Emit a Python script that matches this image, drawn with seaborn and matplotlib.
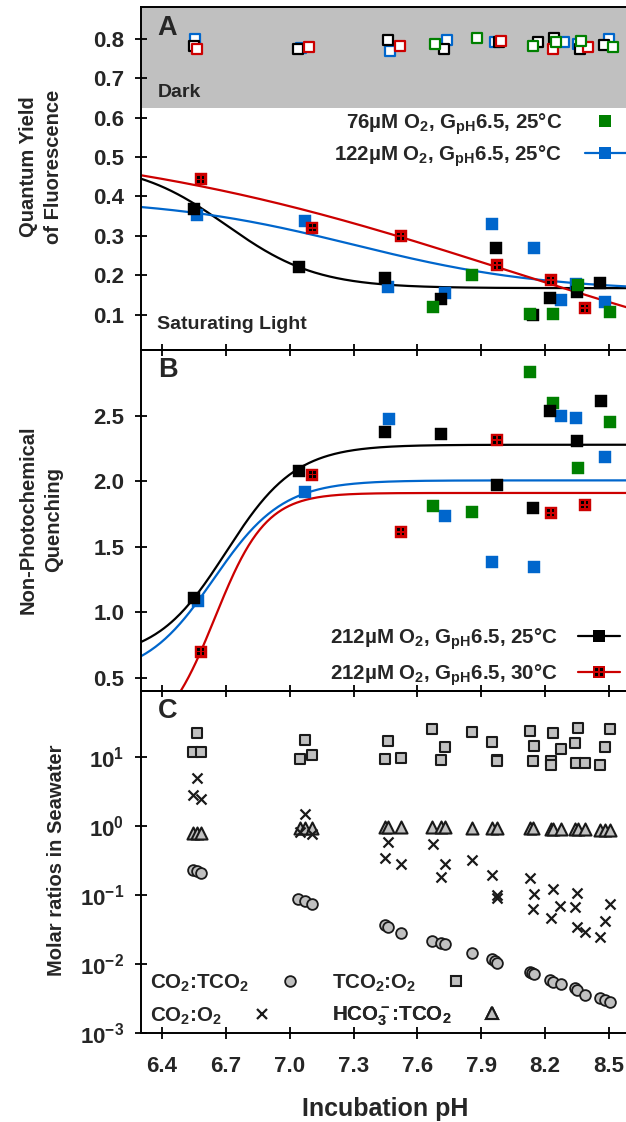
import numpy as np
import matplotlib
matplotlib.use("Agg")
import matplotlib.pyplot as plt
import seaborn as sns
from matplotlib.path import Path
from matplotlib.lines import Line2D
from matplotlib.ticker import FixedLocator, FormatStrFormatter, LogLocator, NullLocator

sns.set_style("ticks")
plt.rcParams.update({
    "font.family": ["Liberation Sans", "DejaVu Sans"],
    "font.weight": "bold",
    "mathtext.fontset": "custom",
    "mathtext.rm": "Liberation Sans:bold",
    "mathtext.it": "Liberation Sans:bold",
    "mathtext.bf": "Liberation Sans:bold",
    "mathtext.sf": "Liberation Sans:bold",
    "mathtext.default": "rm",
    "axes.linewidth": 1.4,
    "axes.edgecolor": "black",
})

GREEN = "#008000"
BLUE = "#0066cc"
RED = "#cc0000"
GRAY = "#c0c0c0"

# ---------------- Panel A: quantum yield of fluorescence ----------------
# dark-adapted
dark_ph_76 = [7.685, 7.878, 8.144, 8.251, 8.367, 8.520]
dark_fv_76 = [0.788, 0.803, 0.783, 0.791, 0.794, 0.779]
dark_ph_122 = [6.557, 7.051, 7.471, 7.737, 7.964, 8.290, 8.356, 8.499]
dark_fv_122 = [0.799, 0.777, 0.770, 0.797, 0.792, 0.791, 0.788, 0.799]
dark_ph_212_25 = [6.550, 7.041, 7.463, 7.724, 7.983, 8.165, 8.242, 8.365, 8.477]
dark_fv_212_25 = [0.782, 0.775, 0.796, 0.774, 0.792, 0.793, 0.803, 0.774, 0.785]
dark_ph_212_30 = [6.566, 7.091, 7.518, 7.991, 8.235, 8.403]
dark_fv_212_30 = [0.774, 0.780, 0.782, 0.794, 0.774, 0.780]

# saturating light
light_ph_76 = [7.671, 7.857, 8.129, 8.237, 8.353, 8.503]
light_fv_76 = [0.118, 0.200, 0.102, 0.101, 0.174, 0.107]
light_ph_122 = [6.566, 7.072, 7.464, 7.729, 7.951, 8.146, 8.274, 8.344, 8.483]
light_fv_122 = [0.352, 0.338, 0.171, 0.154, 0.329, 0.268, 0.136, 0.178, 0.132]
light_ph_212_25 = [6.550, 7.046, 7.449, 7.710, 7.970, 8.141, 8.224, 8.350, 8.459]
light_fv_212_25 = [0.369, 0.220, 0.192, 0.140, 0.268, 0.099, 0.143, 0.156, 0.180]
light_ph_212_30 = [6.582, 7.107, 7.522, 7.975, 8.227, 8.387]
light_fv_212_30 = [0.443, 0.320, 0.299, 0.225, 0.187, 0.116]

# sigmoid fits: bottom, amplitude, midpoint pH, width (negative = decreasing)
fitA_122 = [0.1584, 0.2379, 7.30, -0.45]
fitA_212_25 = [0.167, 0.320, 6.702, -0.2125]
fitA_212_30 = [-0.128, 0.688, 8.00, -1.00]

# ---------------- Panel B: non-photochemical quenching ----------------
npq_ph_76 = [7.671, 7.857, 8.130, 8.237, 8.353, 8.505]
npq_76 = [1.812, 1.767, 2.835, 2.599, 2.102, 2.452]
npq_ph_122 = [6.569, 7.074, 7.466, 7.729, 7.951, 8.148, 8.273, 8.344, 8.483]
npq_122 = [1.084, 1.914, 2.477, 1.731, 1.381, 1.346, 2.498, 2.480, 2.183]
npq_ph_212_25 = [6.549, 7.046, 7.448, 7.710, 7.972, 8.143, 8.224, 8.350, 8.461]
npq_212_25 = [1.106, 2.079, 2.378, 2.358, 1.967, 1.795, 2.536, 2.307, 2.614]
npq_ph_212_30 = [6.582, 7.107, 7.522, 7.974, 8.226, 8.387]
npq_212_30 = [0.699, 2.049, 1.612, 2.313, 1.757, 1.818]

fitB_122 = [0.50, 1.505, 6.643, 0.162]
fitB_212_25 = [0.64, 1.637, 6.701, 0.164]
fitB_212_30 = [0.0, 1.909, 6.648, 0.120]

# ---------------- Panel C: molar ratios in seawater ----------------
co2_tco2_ph = [6.546, 6.566, 6.585, 7.041, 7.072, 7.107, 7.448, 7.464, 7.524,
               7.669, 7.709, 7.728, 7.856, 7.949, 7.964, 7.975, 8.127, 8.137,
               8.149, 8.223, 8.237, 8.273, 8.342, 8.351, 8.387, 8.459, 8.483, 8.507]
co2_tco2 = [0.231, 0.223, 0.210, 0.088, 0.083, 0.0735, 0.0369, 0.0349, 0.0286,
            0.0219, 0.0205, 0.0194, 0.0144, 0.0118, 0.0111, 0.0103, 0.0076, 0.0074,
            0.0071, 0.0059, 0.0056, 0.0052, 0.00448, 0.00423, 0.00355, 0.0032,
            0.00303, 0.00284]

tco2_o2_ph = [6.566, 6.546, 6.585, 7.072, 7.047, 7.105, 7.464, 7.450, 7.521,
              7.669, 7.728, 7.709, 7.856, 7.950, 7.974, 7.974, 8.129, 8.149,
              8.144, 8.237, 8.273, 8.227, 8.227, 8.354, 8.342, 8.345, 8.387,
              8.505, 8.483, 8.459]
tco2_o2 = [21.8, 11.6, 11.6, 17.4, 9.4, 10.6, 16.9, 9.4, 9.6,
           24.9, 14.0, 9.0, 22.5, 16.5, 9.0, 8.6, 23.5, 14.4,
           8.7, 21.8, 12.9, 8.7, 7.6, 25.7, 15.6, 8.2, 8.2,
           25.4, 14.0, 7.6]

co2_o2_ph = [6.566, 6.546, 6.585, 7.072, 7.047, 7.105, 7.464, 7.450, 7.521,
             7.671, 7.728, 7.709, 7.856, 7.950, 7.974, 7.974, 8.129, 8.146,
             8.143, 8.237, 8.270, 8.227, 8.352, 8.342, 8.350, 8.387, 8.507,
             8.483, 8.459]
co2_o2 = [4.98, 2.79, 2.42, 1.47, 0.82, 0.76, 0.585, 0.347, 0.281,
          0.552, 0.281, 0.184, 0.321, 0.195, 0.100, 0.089, 0.175, 0.104,
          0.0624, 0.123, 0.0695, 0.0461, 0.108, 0.068, 0.0343, 0.029, 0.0736,
          0.0422, 0.0243]

hco3_tco2_ph = [6.546, 6.566, 6.585, 7.047, 7.072, 7.105, 7.450, 7.464, 7.521,
                7.669, 7.709, 7.728, 7.856, 7.950, 7.974, 8.129, 8.144, 8.227,
                8.237, 8.273, 8.342, 8.354, 8.387, 8.459, 8.483, 8.505]
hco3_tco2 = [0.78, 0.78, 0.79, 0.93, 0.93, 0.94, 0.96, 0.96, 0.96,
             0.95, 0.95, 0.95, 0.94, 0.93, 0.93, 0.92, 0.92, 0.91,
             0.91, 0.91, 0.89, 0.89, 0.89, 0.87, 0.87, 0.87]

x_ticks = [6.4, 6.7, 7.0, 7.3, 7.6, 7.9, 8.2, 8.5]
a_ticks = [0.1, 0.2, 0.3, 0.4, 0.5, 0.6, 0.7, 0.8]
b_ticks = [0.5, 1.0, 1.5, 2.0, 2.5]

lab_76 = r"76µM O$_2$, G$_{pH}$6.5, 25°C"
lab_122 = r"122µM O$_2$, G$_{pH}$6.5, 25°C"
lab_212_25 = r"212µM O$_2$, G$_{pH}$6.5, 25°C"
lab_212_30 = r"212µM O$_2$, G$_{pH}$6.5, 30°C"


def sigmoid(x, p):
    bottom, amp, x0, w = p
    return bottom + amp / (1.0 + np.exp(-(x - x0) / w))


def dots_marker():
    verts, codes = [], []
    for sx in (-1, 1):
        for sy in (-1, 1):
            x0, x1 = sorted((sx * 0.12, sx * 0.5))
            y0, y1 = sorted((sy * 0.12, sy * 0.5))
            verts += [(x0, y0), (x1, y0), (x1, y1), (x0, y1), (x0, y0)]
            codes += [Path.MOVETO, Path.LINETO, Path.LINETO, Path.LINETO, Path.CLOSEPOLY]
    return Path(verts, codes)


DOTS = dots_marker()
W, H = 626, 1122
fig = plt.figure(figsize=(W / 100, H / 100), dpi=100)
LEFT = 140.7


def add_panel(top, bottom):
    return fig.add_axes([LEFT / W, 1 - bottom / H, (W - LEFT) / W, (bottom - top) / H])


axA = add_panel(7.3, 350.0)
axB = add_panel(350.0, 690.7)
axC = add_panel(690.7, 1033.3)

grid = np.linspace(6.3, 8.6, 400)
SQ = 80
DOT_S = 26


def filled(ax, x, y, color, dotted=False):
    sns.scatterplot(x=x, y=y, marker="s", s=SQ, facecolor=color, edgecolor=color,
                    linewidth=0.3, ax=ax, zorder=4, legend=False)
    if dotted:
        sns.scatterplot(x=x, y=y, marker=DOTS, s=DOT_S, facecolor="black",
                        edgecolor="none", linewidth=0, ax=ax, zorder=5, legend=False)


def open_sq(ax, x, y, color):
    sns.scatterplot(x=x, y=y, marker="s", s=55, facecolor="white", edgecolor=color,
                    linewidth=1.6, ax=ax, zorder=4, legend=False)


def curve(ax, p, color):
    sns.lineplot(x=grid, y=sigmoid(grid, p), color=color, lw=1.6, ax=ax,
                 zorder=2, sort=False, estimator=None)


# ---- Panel A ----
axA.axhspan(0.625, 0.90, color=GRAY, lw=0, zorder=0)
curve(axA, fitA_212_25, "black")
curve(axA, fitA_122, BLUE)
curve(axA, fitA_212_30, RED)
open_sq(axA, dark_ph_122, dark_fv_122, BLUE)
open_sq(axA, dark_ph_212_25, dark_fv_212_25, "black")
open_sq(axA, dark_ph_212_30, dark_fv_212_30, RED)
open_sq(axA, dark_ph_76, dark_fv_76, GREEN)
filled(axA, light_ph_122, light_fv_122, BLUE)
filled(axA, light_ph_212_25, light_fv_212_25, "black")
filled(axA, light_ph_76, light_fv_76, GREEN)
filled(axA, light_ph_212_30, light_fv_212_30, RED, dotted=True)
axA.set_ylim(0.01, 0.88)

# ---- Panel B ----
curve(axB, fitB_212_25, "black")
curve(axB, fitB_122, BLUE)
curve(axB, fitB_212_30, RED)
filled(axB, npq_ph_122, npq_122, BLUE)
filled(axB, npq_ph_76, npq_76, GREEN)
filled(axB, npq_ph_212_25, npq_212_25, "black")
filled(axB, npq_ph_212_30, npq_212_30, RED, dotted=True)
axB.set_ylim(0.4, 3.0)

# ---- Panel C ----
axC.set_yscale("log")
EDGE = "#1a1a1a"
sns.scatterplot(x=tco2_o2_ph, y=tco2_o2, marker="s", s=58, facecolor=GRAY,
                edgecolor=EDGE, linewidth=1.5, ax=axC, zorder=3, legend=False)
sns.scatterplot(x=hco3_tco2_ph, y=hco3_tco2, marker="^", s=75, facecolor=GRAY,
                edgecolor=EDGE, linewidth=1.5, ax=axC, zorder=3, legend=False)
sns.scatterplot(x=co2_o2_ph, y=co2_o2, marker="x", s=52, color=EDGE,
                linewidth=1.6, ax=axC, zorder=3, legend=False)
sns.scatterplot(x=co2_tco2_ph, y=co2_tco2, marker="o", s=60, facecolor=GRAY,
                edgecolor=EDGE, linewidth=1.3, ax=axC, zorder=3, legend=False)
axC.set_ylim(1e-3, 90)
axC.yaxis.set_major_locator(LogLocator(base=10, numticks=10))
axC.yaxis.set_minor_locator(NullLocator())

# ---- shared axis styling ----
for ax in (axA, axB, axC):
    ax.set_xlim(6.3, 8.58)
    ax.xaxis.set_major_locator(FixedLocator(x_ticks))
    ax.xaxis.set_major_formatter(FormatStrFormatter("%.1f"))
    ax.spines["right"].set_visible(False)
    ax.tick_params(axis="both", which="major", direction="inout", length=8.5,
                   width=1.3, color="black")
    ax.tick_params(axis="y", labelsize=16, pad=7.5)
    ax.tick_params(axis="x", labelsize=16, pad=12)
    ax.set_xlabel("")
    ax.set_ylabel("")
    for lab in ax.get_xticklabels() + ax.get_yticklabels():
        lab.set_fontweight("bold")
    ax.patch.set_alpha(0)

axA.tick_params(axis="x", labelbottom=False)
axB.tick_params(axis="x", labelbottom=False)
axA.yaxis.set_major_locator(FixedLocator(a_ticks))
axA.yaxis.set_major_formatter(FormatStrFormatter("%.1f"))
axB.yaxis.set_major_locator(FixedLocator(b_ticks))
axB.yaxis.set_major_formatter(FormatStrFormatter("%.1f"))

# ---- panel annotations ----
for ax, letter in ((axA, "A"), (axB, "B"), (axC, "C")):
    ax.text(0.035, 0.94, letter, transform=ax.transAxes, fontsize=19.5,
            fontweight="bold", ha="left", va="center")
axA.text(6.38, 0.664, "Dark", fontsize=14, fontweight="bold", ha="left", va="center")
axA.text(6.375, 0.074, "Saturating Light", fontsize=14, fontweight="bold",
         ha="left", va="center")

# ---- legends ----
LEG_FS = 14.8
h76 = Line2D([], [], ls="none", marker="s", ms=8.9, mfc=GREEN, mec=GREEN, mew=0)
h122 = Line2D([], [], color=BLUE, lw=1.6, marker="s", ms=8.9, mfc=BLUE, mec=BLUE, mew=0)
legA = axA.legend([h76, h122], [lab_76, lab_122], loc="center right",
                  bbox_to_anchor=(626 / W, 1 - 140 / H), bbox_transform=fig.transFigure,
                  frameon=False, markerfirst=False, fontsize=LEG_FS, handlelength=2.0,
                  handletextpad=1.1, labelspacing=0.3, borderpad=0, borderaxespad=0)
for t in legA.get_texts():
    t.set_fontweight("bold")

h25 = Line2D([], [], color="black", lw=1.6, marker="s", ms=8.9, mfc="black", mec="black", mew=0)
h30a = Line2D([], [], color=RED, lw=1.6, marker="s", ms=8.9, mfc=RED, mec=RED, mew=0)
h30b = Line2D([], [], ls="none", marker=DOTS, ms=5.1, mfc="black", mec="none", mew=0)
legB = axB.legend([h25, (h30a, h30b)], [lab_212_25, lab_212_30], loc="center right",
                  bbox_to_anchor=(620 / W, 1 - 657 / H), bbox_transform=fig.transFigure,
                  frameon=False, markerfirst=False, fontsize=LEG_FS, handlelength=2.05,
                  handletextpad=1.0, labelspacing=0.52, borderpad=0, borderaxespad=0)
for t in legB.get_texts():
    t.set_fontweight("bold")

c_entries = [
    (Line2D([], [], ls="none", marker="o", ms=7.7, mfc=GRAY, mec=EDGE, mew=1.3),
     r"CO$_2$:TCO$_2$", 150.5, 983.0),
    (Line2D([], [], ls="none", marker="s", ms=7.6, mfc=GRAY, mec=EDGE, mew=1.5),
     r"TCO$_2$:O$_2$", 332.0, 983.0),
    (Line2D([], [], ls="none", marker="x", ms=7.2, mec=EDGE, mew=1.6),
     r"CO$_2$:O$_2$", 150.5, 1016.0),
    (Line2D([], [], ls="none", marker="^", ms=8.6, mfc=GRAY, mec=EDGE, mew=1.5),
     r"HCO$_3^-$:TCO$_2$", 332.0, 1016.0),
]
for handle, label, lx, ly in c_entries:
    lg = axC.legend([handle], [label], loc="center left", bbox_to_anchor=(lx / W, 1 - ly / H),
                    bbox_transform=fig.transFigure, frameon=False, markerfirst=False,
                    fontsize=LEG_FS, handlelength=0.8, handletextpad=1.55, borderpad=0,
                    borderaxespad=0)
    for t in lg.get_texts():
        t.set_fontweight("bold")
    axC.add_artist(lg)

# ---- axis titles ----
fig.text(41 / W, 1 - 167 / H, "Quantum Yield\nof Fluorescence", rotation=90, ha="center",
         va="center", fontsize=14.5, fontweight="bold", linespacing=1.45,
         multialignment="center")
fig.text(41 / W, 1 - 520 / H, "Non-Photochemical\nQuenching", rotation=90, ha="center",
         va="center", fontsize=14.5, fontweight="bold", linespacing=1.45,
         multialignment="center")
fig.text(57 / W, 1 - 860 / H, "Molar ratios in Seawater", rotation=90, ha="center",
         va="center", fontsize=14.5, fontweight="bold")
fig.text(385 / W, 1 - 1109 / H, "Incubation pH", ha="center", va="center",
         fontsize=18, fontweight="bold")

fig.savefig("out.png", dpi=100)
